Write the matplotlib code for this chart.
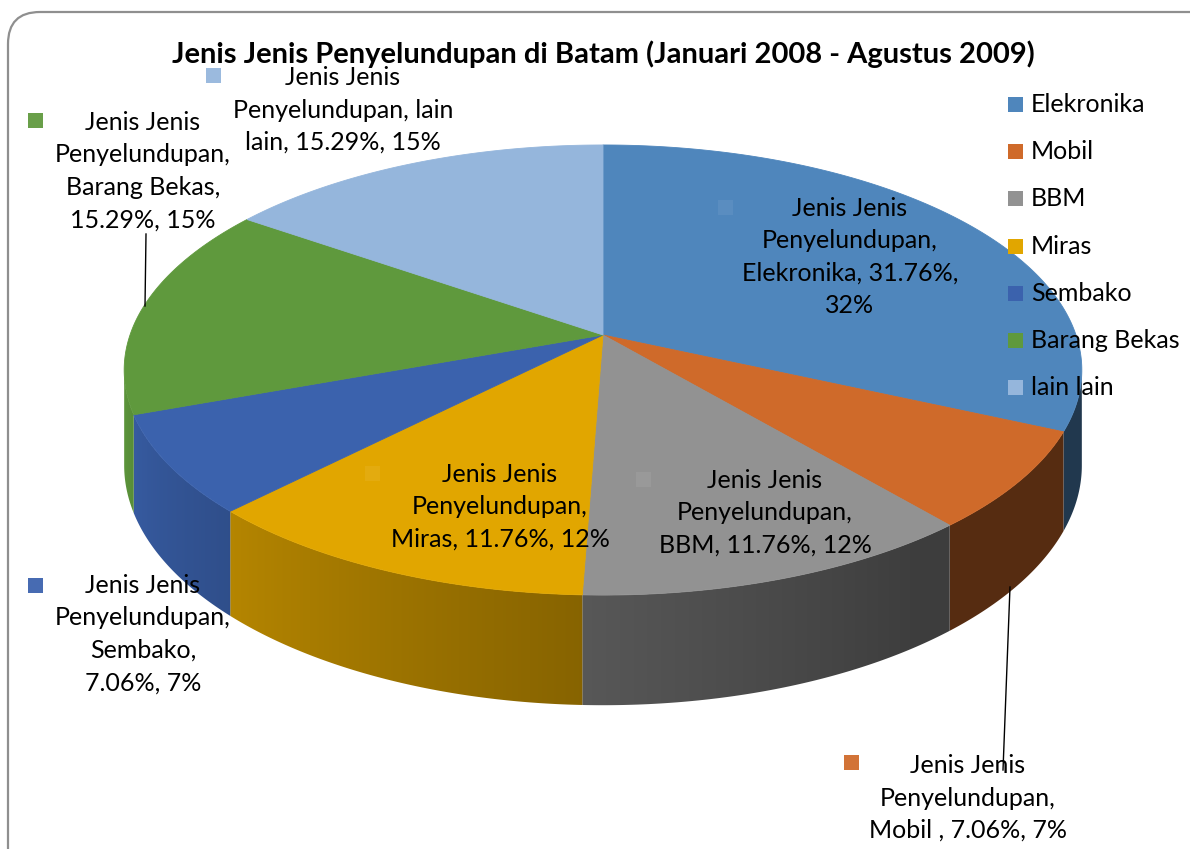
"""
pie3d_penyelundupan.py
"""
import numpy as np
import matplotlib.pyplot as plt
from matplotlib.patches import Polygon, Rectangle, FancyBboxPatch
from matplotlib.colors import to_rgb

plt.rcParams['font.family'] = ['Lato', 'DejaVu Sans']
# ------------------------Data--------------------------------------------------
title = 'Jenis Jenis Penyelundupan di Batam (Januari 2008 - Agustus 2009)'
categories = ['Elekronika', 'Mobil', 'BBM', 'Miras', 'Sembako', 'Barang Bekas', 'lain lain']
counts = [27, 6, 10, 10, 6, 13, 13]
label_texts = ['Jenis Jenis\nPenyelundupan,\nElekronika, 31.76%,\n32%',
               'Jenis Jenis\nPenyelundupan,\nMobil , 7.06%, 7%',
               'Jenis Jenis\nPenyelundupan,\nBBM, 11.76%, 12%',
               'Jenis Jenis\nPenyelundupan,\nMiras, 11.76%, 12%',
               'Jenis Jenis\nPenyelundupan,\nSembako,\n7.06%, 7%',
               'Jenis Jenis\nPenyelundupan,\nBarang Bekas,\n15.29%, 15%',
               'Jenis Jenis\nPenyelundupan, lain\nlain, 15.29%, 15%']
colors = ['#4f86bc', '#cf6a2a', '#929292', '#e1a600', '#3b62ad', '#5f993d', '#95b6dc']
# ------------------------Layout------------------------------------------------
W, H = 1190, 849
CX, CY = 603.0, 335.0      # apex of the pie
A, B = 473.0, 219.6        # horizontal / vertical radius
P = 0.1556                 # perspective
DEPTH = 93.0
# label block centres and key squares
lab_xy = [(850, 257), (968, 798), (765, 513), (500, 507), (143, 634), (143, 171), (343, 110)]
key_xy = [(725, 207), (851, 762), (643, 479), (372, 473), (35, 585), (35, 120), (213, 75)]
fs = 18

def proj(t, drop=0.0):
    u, v = np.cos(t), np.sin(t)
    w = 1 + P*v
    return CX + A*u/w, CY - B*v/w + drop/w

def shade(deg):
    return np.clip(0.6 - 0.0048*(deg - 268), 0.42, 1.0)

fig = plt.figure(figsize=(W/100, H/100), dpi=100)
ax = fig.add_axes([0, 0, 1, 1])

# border
ax.add_patch(FancyBboxPatch((8, 12), 1230, 900, boxstyle='round,pad=0,rounding_size=32',
                            fc='none', ec='#8f8f8f', lw=1.6, zorder=0))

frac = np.array(counts)/np.sum(counts)
cum = np.concatenate([[0], np.cumsum(frac)])
starts = 90 - cum[:-1]*360
ends = 90 - cum[1:]*360
vis_lo, vis_hi = -180 + np.degrees(np.arcsin(P)), -np.degrees(np.arcsin(P))

# angle along the front wall as a function of screen x (for the side gradient)
t_all = np.linspace(vis_lo, vis_hi, 3000)
x_all, _ = proj(np.radians(t_all))
xgrid = np.arange(0, W + 1, 1.0)
fac = shade(np.interp(xgrid, x_all, t_all) + 360)

# ------------------------Side walls--------------------------------------------
for i in range(len(counts)):
    lo, hi = max(ends[i], vis_lo), min(starts[i], vis_hi)
    if hi <= lo:
        continue
    ts = np.radians(np.linspace(lo, hi, 200))
    xt, yt = proj(ts)
    xb, yb = proj(ts, DEPTH)
    pts = np.column_stack([np.r_[xt, xb[::-1]], np.r_[yt, yb[::-1]]])
    poly = Polygon(pts, closed=True, fc='none', ec='none')
    ax.add_patch(poly)
    base = np.array(to_rgb(colors[i]))
    img = np.clip(fac[None, :, None]*base[None, None, :], 0, 1)
    im = ax.imshow(img, extent=(0, W, 0, H), origin='upper', aspect='auto',
                   interpolation='bilinear', zorder=1)
    im.set_clip_path(poly)

ax.set_xlim(0, W)
ax.set_ylim(H, 0)
ax.axis('off')

# ------------------------Top wedges--------------------------------------------
for i in range(len(counts)):
    ts = np.radians(np.linspace(starts[i], ends[i], 200))
    xs, ys = proj(ts)
    pts = np.column_stack([np.r_[CX, xs], np.r_[CY, ys]])
    ax.add_patch(Polygon(pts, closed=True, fc=colors[i], ec=colors[i], lw=0.6, zorder=2))

# ------------------------Data labels-------------------------------------------
for i in range(len(counts)):
    ax.text(lab_xy[i][0], lab_xy[i][1], label_texts[i], ha='center', va='center',
            fontsize=fs, linespacing=1.5, color='black', zorder=5)
    kc = np.array(to_rgb(colors[i]))
    kc = kc + (1 - kc)*0.06
    ax.add_patch(Rectangle((key_xy[i][0] - 7.5, key_xy[i][1] - 7.5), 15, 15,
                           fc=kc, ec='none', zorder=4))

# leader lines
ax.plot([146, 145], [234, 306], color='black', lw=1.0, zorder=5)
ax.plot([1010, 1003], [587, 770], color='black', lw=1.0, zorder=5)

# ------------------------Legend------------------------------------------------
for i, c in enumerate(categories):
    y = 104.5 + i*47.2
    ax.add_patch(Rectangle((1008, y - 7.5), 15, 15, fc=colors[i], ec='none', zorder=4))
    ax.text(1031, y, c, ha='left', va='center', fontsize=fs, zorder=5)

ax.text(603, 63, title, ha='center', va='baseline', fontsize=21, fontweight='bold', zorder=5)

plt.savefig('out.png', dpi=100)
